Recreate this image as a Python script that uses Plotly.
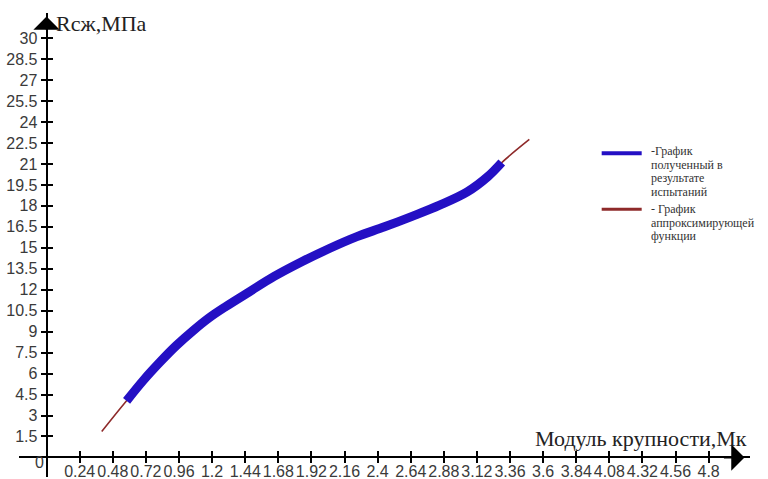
import plotly.graph_objects as go

# Test results: compressive strength vs. fineness modulus
x_exp = [0.58, 0.70, 0.82, 0.94, 1.06, 1.18, 1.30, 1.47, 1.65, 1.85, 2.05, 2.25,
         2.45, 2.65, 2.85, 3.05, 3.20, 3.30]
y_exp = [4.05, 5.5, 6.8, 8.0, 9.05, 10.0, 10.8, 11.85, 12.95, 14.0, 14.95, 15.8,
         16.5, 17.25, 18.05, 19.0, 20.1, 21.1]

# Approximating function curve (extends past both ends of the test data)
x_fit = [0.40, 0.58, 0.82, 1.06, 1.30, 1.65, 2.05, 2.45, 2.85, 3.05, 3.20, 3.30, 3.50]
y_fit = [1.85, 4.05, 6.8, 9.05, 10.8, 12.95, 14.95, 16.5, 18.05, 19.0, 20.1, 21.1, 22.75]

x_ticks = [0.24, 0.48, 0.72, 0.96, 1.2, 1.44, 1.68, 1.92, 2.16, 2.4,
           2.64, 2.88, 3.12, 3.36, 3.6, 3.84, 4.08, 4.32, 4.56, 4.8]
x_labels = ["0.24", "0.48", "0.72", "0.96", "1.2", "1.44", "1.68", "1.92", "2.16", "2.4",
            "2.64", "2.88", "3.12", "3.36", "3.6", "3.84", "4.08", "4.32", "4.56", "4.8"]
y_ticks = [1.5, 3, 4.5, 6, 7.5, 9, 10.5, 12, 13.5, 15, 16.5, 18, 19.5, 21,
           22.5, 24, 25.5, 27, 28.5, 30]
y_labels = ["1.5", "3", "4.5", "6", "7.5", "9", "10.5", "12", "13.5", "15", "16.5", "18",
            "19.5", "21", "22.5", "24", "25.5", "27", "28.5", "30"]

legend_exp = ["-График", "полученный в", "результате", "испытаний"]
legend_fit = ["- График", "аппроксимирующей", "функции"]

BLUE = "#2410c4"
RED = "#8e2a2a"

X_RANGE = [-0.2, 5.1]
Y_RANGE = [-1.4, 31.8]
W, H = 768, 479
ML, MR, MT, MB = 19.4, 17.7, 12.8, 2.4
PW, PH = W - ML - MR, H - MT - MB

# fractional positions of the zero lines inside the plot area
x_axis_pos = (0 - Y_RANGE[0]) / (Y_RANGE[1] - Y_RANGE[0])
y_axis_pos = (0 - X_RANGE[0]) / (X_RANGE[1] - X_RANGE[0])


def paper(px, py):
    return (px - ML) / PW, 1 - (py - MT) / PH


fig = go.Figure()
fig.add_trace(go.Scatter(x=x_fit, y=y_fit, mode="lines",
                         line=dict(color=RED, width=1.6, shape="spline", smoothing=1),
                         showlegend=False, hoverinfo="skip"))
fig.add_trace(go.Scatter(x=x_exp, y=y_exp, mode="lines",
                         line=dict(color=BLUE, width=9, shape="spline", smoothing=1),
                         showlegend=False))
# helper trace for the overlay axes carrying the other half of the tick marks
fig.add_trace(go.Scatter(x=[], y=[], xaxis="x2", yaxis="y2", showlegend=False,
                         hoverinfo="skip"))

tick_font = dict(family="Liberation Sans, Arial, sans-serif", size=16, color="#3a3a3a")

common = dict(showgrid=False, zeroline=False, fixedrange=True, automargin=False)

fig.update_layout(
    width=W, height=H,
    margin=dict(l=ML, r=MR, t=MT, b=MB, pad=0),
    paper_bgcolor="white", plot_bgcolor="white",
    showlegend=False,
    xaxis=dict(range=X_RANGE, anchor="free", position=x_axis_pos,
               showline=True, linecolor="black", linewidth=2,
               tickmode="array", tickvals=x_ticks, ticktext=x_labels, tickangle=0,
               ticks="inside", ticklen=5, tickwidth=1.5, tickcolor="black",
               ticklabelstandoff=-1, tickfont=tick_font, **common),
    yaxis=dict(range=Y_RANGE, anchor="free", position=y_axis_pos,
               showline=True, linecolor="black", linewidth=2,
               tickmode="array", tickvals=y_ticks, ticktext=y_labels, tickangle=0,
               ticks="outside", ticklen=5, tickwidth=1.5, tickcolor="black",
               tickfont=tick_font, **common),
    xaxis2=dict(range=X_RANGE, overlaying="x", anchor="free", position=x_axis_pos,
                showline=False, tickmode="array", tickvals=x_ticks,
                ticks="outside", ticklen=5, tickwidth=1.5, tickcolor="black",
                showticklabels=False, **common),
    yaxis2=dict(range=Y_RANGE, overlaying="y", anchor="free", position=y_axis_pos,
                showline=False, tickmode="array", tickvals=y_ticks,
                ticks="inside", ticklen=5, tickwidth=1.5, tickcolor="black",
                showticklabels=False, **common),
)

# arrowheads at the ends of the axes
fig.add_annotation(x=5.06, y=0, ax=4.9, ay=0, xref="x", yref="y", axref="x", ayref="y",
                   text="", showarrow=True, arrowhead=1, arrowsize=2.2, arrowwidth=2,
                   arrowcolor="black")
fig.add_annotation(x=0, y=31.55, ax=0, ay=30.5, xref="x", yref="y", axref="x", ayref="y",
                   text="", showarrow=True, arrowhead=1, arrowsize=2.2, arrowwidth=2,
                   arrowcolor="black")

serif = "Liberation Serif, Times New Roman, serif"

# axis titles
px_, py_ = paper(54, 23)
fig.add_annotation(x=px_, y=py_, xref="paper", yref="paper", text="Rсж,МПа",
                   showarrow=False, xanchor="left", yanchor="middle",
                   font=dict(family=serif, size=22, color="#222"))
px_, py_ = paper(749, 438)
fig.add_annotation(x=px_, y=py_, xref="paper", yref="paper", text="Модуль крупности,Мк",
                   showarrow=False, xanchor="right", yanchor="middle",
                   font=dict(family=serif, size=22, color="#222"))
# origin label
px_, py_ = paper(40, 462)
fig.add_annotation(x=px_, y=py_, xref="paper", yref="paper", text="0",
                   showarrow=False, xanchor="center", yanchor="middle", font=tick_font)

# legend: line samples and captions
for color, width, ly in [(BLUE, 4, 153), (RED, 3, 209)]:
    x0, y0 = paper(602, ly)
    x1, _ = paper(642, ly)
    fig.add_shape(type="line", xref="paper", yref="paper", x0=x0, x1=x1, y0=y0, y1=y0,
                  line=dict(color=color, width=width))

legend_font = dict(family=serif, size=12, color="#333")
for lines, top in [(legend_exp, 151), (legend_fit, 209)]:
    for i, line in enumerate(lines):
        px_, py_ = paper(649, top + i * 13.5)
        fig.add_annotation(x=px_, y=py_, xref="paper", yref="paper", text=line,
                           showarrow=False, xanchor="left", yanchor="middle",
                           font=legend_font)

fig.write_html("out.html")
